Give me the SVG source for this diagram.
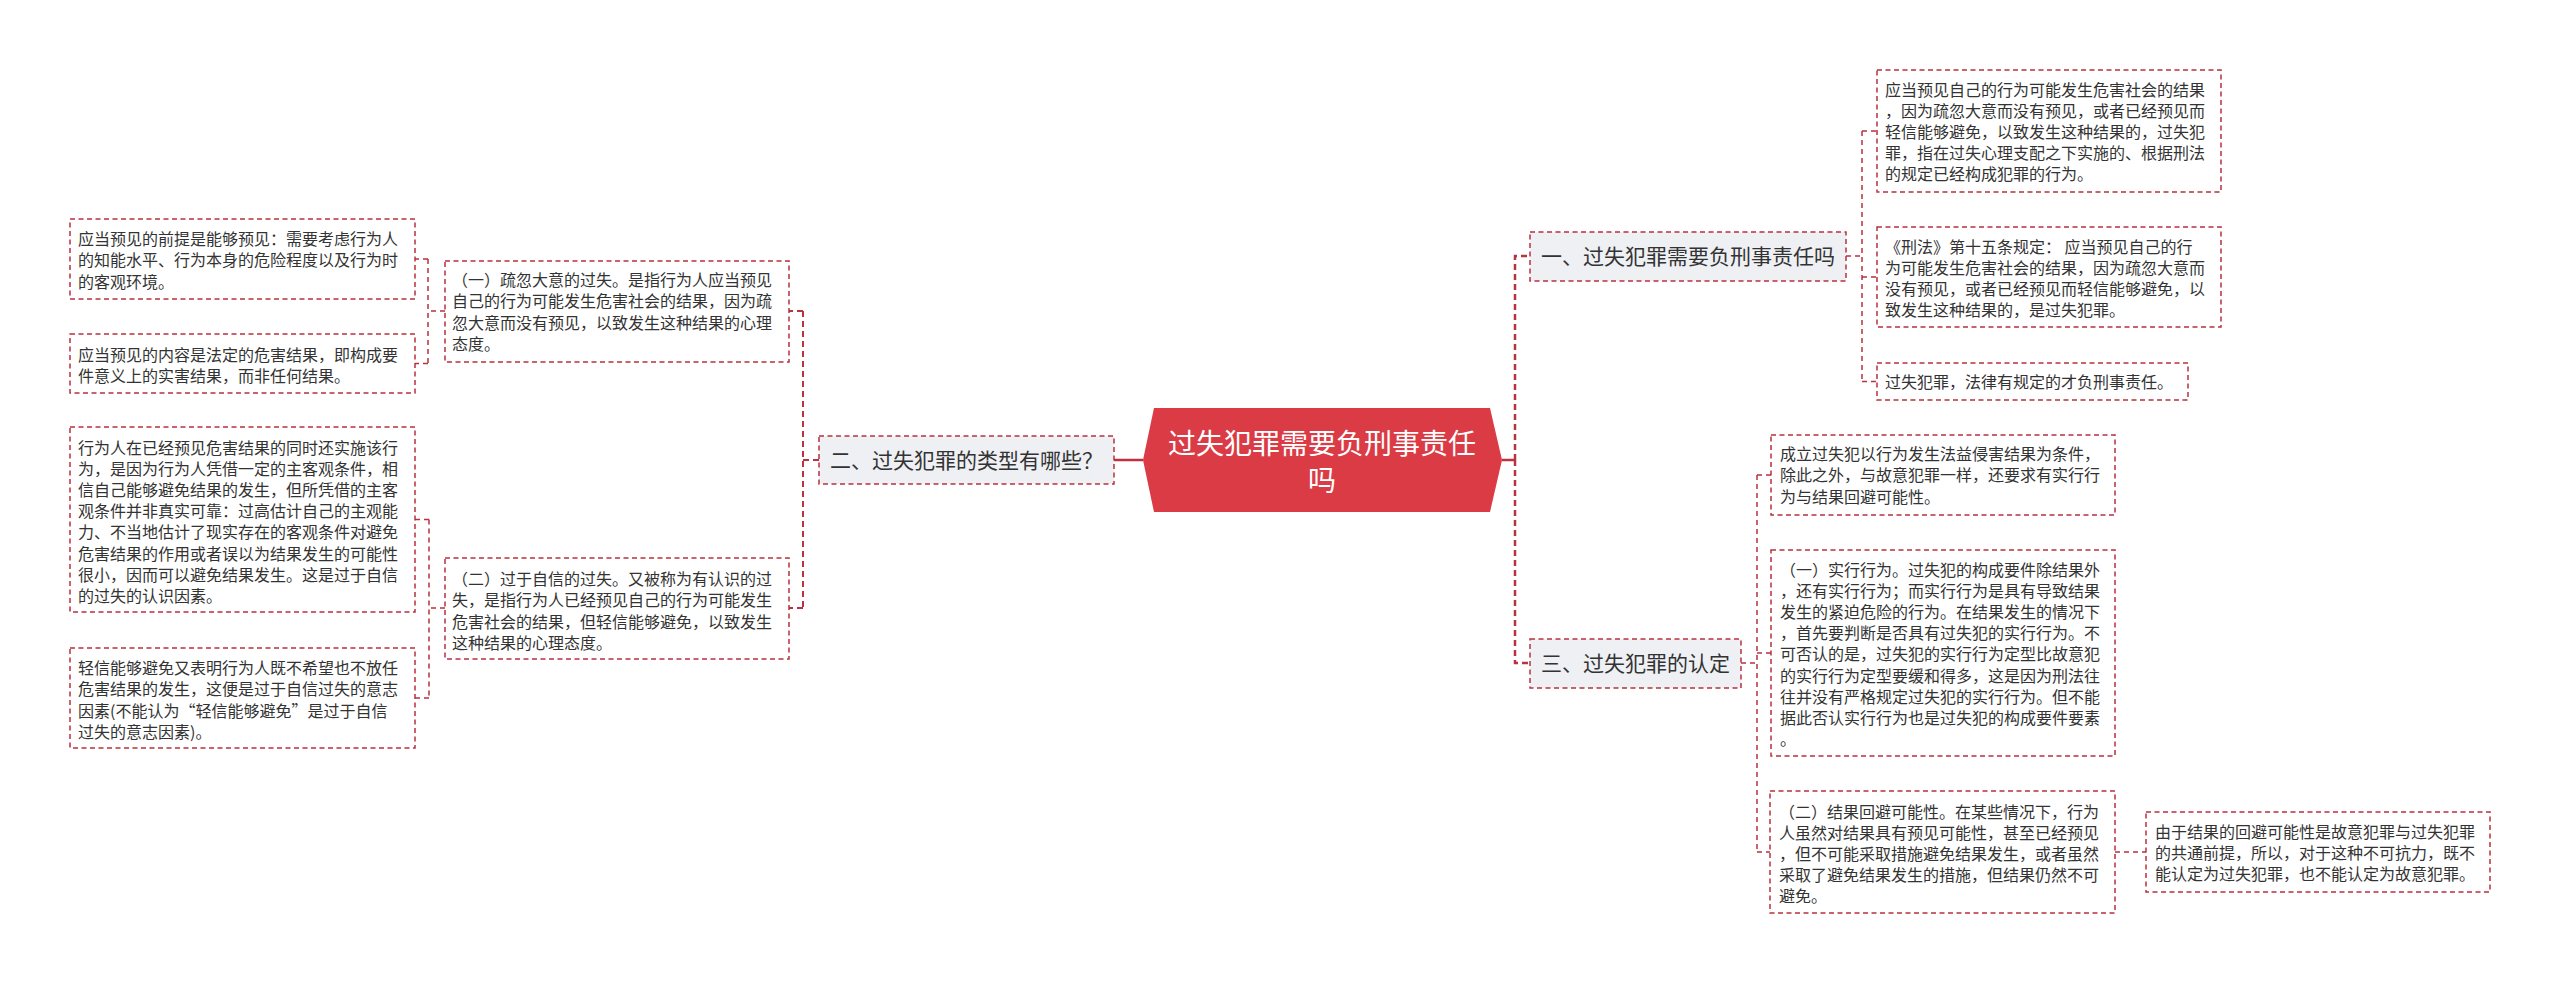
<svg xmlns="http://www.w3.org/2000/svg" width="2560" height="983" viewBox="0 0 2560 983">
<style>
.bg{fill:#ffffff}
.box{fill:#ffffff;stroke:#b8323f;stroke-width:1.5;stroke-dasharray:5 3.5}
.topic{fill:#eef0f4;stroke:#b8323f;stroke-width:1.5;stroke-dasharray:5 3.5}
.t{font-family:"Noto Sans CJK SC","Noto Sans",sans-serif;font-size:16px;fill:#333333}
.tt{font-family:"Noto Sans CJK SC","Noto Sans",sans-serif;font-size:21px;fill:#333333}
.ct{font-family:"Noto Sans CJK SC","Noto Sans",sans-serif;font-size:28px;fill:#ffffff;text-anchor:middle}
.c{fill:none;stroke:#b8323f;stroke-width:1.5;stroke-dasharray:5 4}
.c2{fill:none;stroke:#b8323f;stroke-width:2;stroke-dasharray:6 4}
.c1{fill:none;stroke:#b8323f;stroke-width:2.5;stroke-dasharray:6 4}
.solid{fill:none;stroke:#c22f3c;stroke-width:2.5}
</style>
<rect class="bg" x="0" y="0" width="2560" height="983"/>

<g id="connectors">
  <line class="solid" x1="1114" y1="460" x2="1143" y2="460"/>
  <line class="solid" x1="1502" y1="460" x2="1516" y2="460"/>
  <path class="c1" d="M1515 460 V256 H1530 M1515 460 V663 H1530"/>
  <path class="c2" d="M819 460 H803 M803 311 V608 M803 311 H789 M803 608 H789"/>
  <path class="c" d="M445 311 H428 M428 259 V363.5 M428 259 H415 M428 363.5 H415"/>
  <path class="c" d="M445 608 H429 M429 519.5 V698 M429 519.5 H415 M429 698 H415"/>
  <path class="c" d="M1846 256 H1862 M1862 131 V381.5 M1862 131 H1877 M1862 277 H1877 M1862 381.5 H1877"/>
  <path class="c" d="M1741 663 H1757 M1757 475 V852 M1757 475 H1771 M1757 653 H1771 M1757 852 H1770"/>
  <path class="c" d="M2115 852 H2146"/>
</g>

<g id="central">
  <polygon points="1154,408 1490,408 1502,460 1490,512 1154,512 1143,460" fill="#db3b45"/>
  <text class="ct" x="1322" y="453.5">过失犯罪需要负刑事责任</text>
  <text class="ct" x="1322" y="490.5">吗</text>
</g>

<g id="topic2">
  <rect class="topic" x="819" y="436" width="295" height="48"/>
  <text class="tt" x="830" y="468">二、过失犯罪的类型有哪些？</text>
</g>

<g id="topic1">
  <rect class="topic" x="1530" y="232" width="316" height="49"/>
  <text class="tt" x="1541" y="264">一、过失犯罪需要负刑事责任吗</text>
</g>

<g id="topic3">
  <rect class="topic" x="1530" y="639" width="211" height="49"/>
  <text class="tt" x="1541" y="671">三、过失犯罪的认定</text>
</g>

<g id="n-foresee-premise">
  <rect class="box" x="70" y="219" width="345" height="80"/>
  <text class="t" x="78" y="245">应当预见的前提是能够预见：需要考虑行为人</text>
  <text class="t" x="78" y="266.3">的知能水平、行为本身的危险程度以及行为时</text>
  <text class="t" x="78" y="287.6">的客观环境。</text>
</g>

<g id="n-foresee-content">
  <rect class="box" x="70" y="334" width="345" height="59"/>
  <text class="t" x="78" y="361">应当预见的内容是法定的危害结果，即构成要</text>
  <text class="t" x="78" y="382.3">件意义上的实害结果，而非任何结果。</text>
</g>

<g id="n-negligence">
  <rect class="box" x="445" y="261" width="344" height="101"/>
  <text class="t" x="452" y="286">（一）疏忽大意的过失。是指行为人应当预见</text>
  <text class="t" x="452" y="307.3">自己的行为可能发生危害社会的结果，因为疏</text>
  <text class="t" x="452" y="328.6">忽大意而没有预见，以致发生这种结果的心理</text>
  <text class="t" x="452" y="350">态度。</text>
</g>

<g id="n-cognition">
  <rect class="box" x="70" y="427" width="345" height="185"/>
  <text class="t" x="78" y="454">行为人在已经预见危害结果的同时还实施该行</text>
  <text class="t" x="78" y="475.1">为，是因为行为人凭借一定的主客观条件，相</text>
  <text class="t" x="78" y="496.2">信自己能够避免结果的发生，但所凭借的主客</text>
  <text class="t" x="78" y="517.3">观条件并非真实可靠：过高估计自己的主观能</text>
  <text class="t" x="78" y="538.4">力、不当地估计了现实存在的客观条件对避免</text>
  <text class="t" x="78" y="559.5">危害结果的作用或者误以为结果发生的可能性</text>
  <text class="t" x="78" y="580.6">很小，因而可以避免结果发生。这是过于自信</text>
  <text class="t" x="78" y="601.7">的过失的认识因素。</text>
</g>

<g id="n-will">
  <rect class="box" x="70" y="648" width="345" height="100"/>
  <text class="t" x="78" y="674">轻信能够避免又表明行为人既不希望也不放任</text>
  <text class="t" x="78" y="695.3">危害结果的发生，这便是过于自信过失的意志</text>
  <text class="t" x="78" y="716.6">因素(不能认为“轻信能够避免”是过于自信</text>
  <text class="t" x="78" y="738">过失的意志因素)。</text>
</g>

<g id="n-overconfidence">
  <rect class="box" x="445" y="558" width="344" height="101"/>
  <text class="t" x="452" y="585">（二）过于自信的过失。又被称为有认识的过</text>
  <text class="t" x="452" y="606.3">失，是指行为人已经预见自己的行为可能发生</text>
  <text class="t" x="452" y="627.6">危害社会的结果，但轻信能够避免，以致发生</text>
  <text class="t" x="452" y="649">这种结果的心理态度。</text>
</g>

<g id="n-definition">
  <rect class="box" x="1877" y="70" width="344" height="122"/>
  <text class="t" x="1885" y="96">应当预见自己的行为可能发生危害社会的结果</text>
  <text class="t" x="1885" y="117">，因为疏忽大意而没有预见，或者已经预见而</text>
  <text class="t" x="1885" y="138">轻信能够避免，以致发生这种结果的，过失犯</text>
  <text class="t" x="1885" y="159">罪，指在过失心理支配之下实施的、根据刑法</text>
  <text class="t" x="1885" y="180">的规定已经构成犯罪的行为。</text>
</g>

<g id="n-article15">
  <rect class="box" x="1877" y="227" width="344" height="100"/>
  <text class="t" x="1885" y="253">《刑法》第十五条规定： 应当预见自己的行</text>
  <text class="t" x="1885" y="274">为可能发生危害社会的结果，因为疏忽大意而</text>
  <text class="t" x="1885" y="295">没有预见，或者已经预见而轻信能够避免，以</text>
  <text class="t" x="1885" y="316">致发生这种结果的，是过失犯罪。</text>
</g>

<g id="n-liability">
  <rect class="box" x="1877" y="363" width="311" height="37"/>
  <text class="t" x="1885" y="388">过失犯罪，法律有规定的才负刑事责任。</text>
</g>

<g id="n-establish">
  <rect class="box" x="1771" y="435" width="344" height="80"/>
  <text class="t" x="1780" y="460">成立过失犯以行为发生法益侵害结果为条件，</text>
  <text class="t" x="1780" y="481.3">除此之外，与故意犯罪一样，还要求有实行行</text>
  <text class="t" x="1780" y="502.6">为与结果回避可能性。</text>
</g>

<g id="n-act">
  <rect class="box" x="1771" y="550" width="344" height="206"/>
  <text class="t" x="1780" y="576">（一）实行行为。过失犯的构成要件除结果外</text>
  <text class="t" x="1780" y="597.1">，还有实行行为；而实行行为是具有导致结果</text>
  <text class="t" x="1780" y="618.2">发生的紧迫危险的行为。在结果发生的情况下</text>
  <text class="t" x="1780" y="639.3">，首先要判断是否具有过失犯的实行行为。不</text>
  <text class="t" x="1780" y="660.4">可否认的是，过失犯的实行行为定型比故意犯</text>
  <text class="t" x="1780" y="681.5">的实行行为定型要缓和得多，这是因为刑法往</text>
  <text class="t" x="1780" y="702.6">往并没有严格规定过失犯的实行行为。但不能</text>
  <text class="t" x="1780" y="723.7">据此否认实行行为也是过失犯的构成要件要素</text>
  <text class="t" x="1780" y="744.8">。</text>
</g>

<g id="n-avoidability">
  <rect class="box" x="1770" y="791" width="345" height="122"/>
  <text class="t" x="1779" y="818">（二）结果回避可能性。在某些情况下，行为</text>
  <text class="t" x="1779" y="839.1">人虽然对结果具有预见可能性，甚至已经预见</text>
  <text class="t" x="1779" y="860.2">，但不可能采取措施避免结果发生，或者虽然</text>
  <text class="t" x="1779" y="881.3">采取了避免结果发生的措施，但结果仍然不可</text>
  <text class="t" x="1779" y="902.4">避免。</text>
</g>

<g id="n-common-premise">
  <rect class="box" x="2146" y="812" width="344" height="80"/>
  <text class="t" x="2155" y="838">由于结果的回避可能性是故意犯罪与过失犯罪</text>
  <text class="t" x="2155" y="859">的共通前提，所以，对于这种不可抗力，既不</text>
  <text class="t" x="2155" y="880">能认定为过失犯罪，也不能认定为故意犯罪。</text>
</g>
</svg>
